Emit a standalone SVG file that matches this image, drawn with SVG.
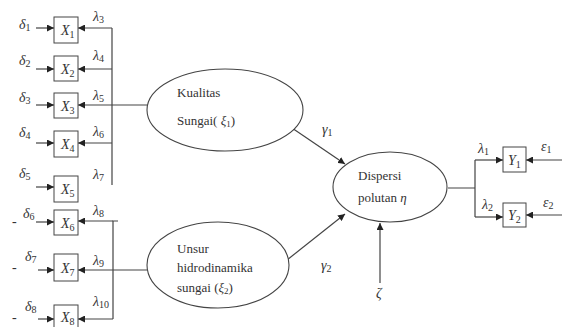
<svg xmlns="http://www.w3.org/2000/svg" width="562" height="327" viewBox="0 0 562 327">
<defs>
<marker id="ah" viewBox="0 0 10 10" refX="10" refY="5" markerWidth="7" markerHeight="7" markerUnits="userSpaceOnUse" orient="auto">
<path d="M0,0 L10,5 L0,10 z" fill="#222"/>
</marker>
<style>
.ln{stroke:#444;stroke-width:1.2;fill:none}
.ar{stroke:#444;stroke-width:1.2;fill:none;marker-end:url(#ah)}
.bx{fill:#fff;stroke:#444;stroke-width:1}
.el{fill:#fff;stroke:#444;stroke-width:1.1}
.m{font-family:"Liberation Serif","DejaVu Serif",serif;font-style:italic;font-size:14px;fill:#333}
.s{font-size:10px;font-style:normal}
.t{font-family:"Liberation Serif","DejaVu Serif",serif;font-size:13px;fill:#333}
</style>
</defs>
<rect width="562" height="327" fill="#fff"/>
<g id="connectors">
<path class="ar" d="M36,28 H54"/>
<path class="ar" d="M36,69 H54"/>
<path class="ar" d="M36,105 H54"/>
<path class="ar" d="M36,143 H54"/>
<path class="ar" d="M36,187 H54"/>
<path class="ar" d="M36,222 H54"/>
<path class="ar" d="M38,270 H54"/>
<path class="ar" d="M38,319 H54"/>
<path class="ln" d="M112,28 V185"/>
<path class="ar" d="M112,28 H78"/>
<path class="ar" d="M112,69 H78"/>
<path class="ar" d="M147,105 H78"/>
<path class="ar" d="M112,143 H78"/>
<path class="ln" d="M118,221 H113 V319"/>
<path class="ar" d="M113,221 H78"/>
<path class="ar" d="M147,270 H78"/>
<path class="ar" d="M113,319 H78"/>
<path class="ar" d="M292,128 L345,164"/>
<path class="ar" d="M287,260 L345,214"/>
<path class="ar" d="M380,283 V223"/>
<path class="ln" d="M448,188 H475 M475,160 V217"/>
<path class="ar" d="M475,160 H503"/>
<path class="ar" d="M475,217 H503"/>
<path class="ar" d="M562,160 H526"/>
<path class="ar" d="M562,215 H526"/>
</g>
<g id="X1"><rect class="bx" x="54" y="17" width="24" height="26"/><text class="m" x="61" y="35">X<tspan class="s" dy="3">1</tspan></text></g>
<g id="X2"><rect class="bx" x="54" y="56" width="24" height="25"/><text class="m" x="61" y="74">X<tspan class="s" dy="3">2</tspan></text></g>
<g id="X3"><rect class="bx" x="54" y="93" width="24" height="25"/><text class="m" x="61" y="111">X<tspan class="s" dy="3">3</tspan></text></g>
<g id="X4"><rect class="bx" x="54" y="131" width="24" height="26"/><text class="m" x="61" y="149">X<tspan class="s" dy="3">4</tspan></text></g>
<g id="X5"><rect class="bx" x="54" y="176" width="24" height="26"/><text class="m" x="61" y="194">X<tspan class="s" dy="3">5</tspan></text></g>
<g id="X6"><rect class="bx" x="54" y="210" width="24" height="25"/><text class="m" x="61" y="228">X<tspan class="s" dy="3">6</tspan></text></g>
<g id="X7"><rect class="bx" x="54" y="254" width="24" height="27"/><text class="m" x="61" y="273">X<tspan class="s" dy="3">7</tspan></text></g>
<g id="X8"><rect class="bx" x="54" y="305" width="24" height="26"/><text class="m" x="61" y="322">X<tspan class="s" dy="3">8</tspan></text></g>
<g id="Y1"><rect class="bx" x="503" y="147" width="23" height="25"/><text class="m" x="508" y="165">Y<tspan class="s" dy="3">1</tspan></text></g>
<g id="Y2"><rect class="bx" x="503" y="203" width="23" height="24"/><text class="m" x="508" y="220">Y<tspan class="s" dy="3">2</tspan></text></g>
<g id="labels">
<text class="m" x="19" y="29">δ<tspan class="s" dy="2">1</tspan></text>
<text class="m" x="19" y="65">δ<tspan class="s" dy="2">2</tspan></text>
<text class="m" x="19" y="102">δ<tspan class="s" dy="2">3</tspan></text>
<text class="m" x="19" y="137">δ<tspan class="s" dy="2">4</tspan></text>
<text class="m" x="19" y="178">δ<tspan class="s" dy="2">5</tspan></text>
<text class="m" x="23" y="218">δ<tspan class="s" dy="2">6</tspan></text>
<text class="m" x="25" y="261">δ<tspan class="s" dy="2">7</tspan></text>
<text class="m" x="25" y="311">δ<tspan class="s" dy="2">8</tspan></text>
<text class="m" x="12" y="226">-</text>
<text class="m" x="12" y="272">-</text>
<text class="m" x="12" y="322">-</text>
<text class="m" x="93" y="21">λ<tspan class="s" dy="2">3</tspan></text>
<text class="m" x="93" y="60">λ<tspan class="s" dy="2">4</tspan></text>
<text class="m" x="93" y="100">λ<tspan class="s" dy="2">5</tspan></text>
<text class="m" x="93" y="136">λ<tspan class="s" dy="2">6</tspan></text>
<text class="m" x="93" y="179">λ<tspan class="s" dy="2">7</tspan></text>
<text class="m" x="93" y="215">λ<tspan class="s" dy="2">8</tspan></text>
<text class="m" x="93" y="265">λ<tspan class="s" dy="2">9</tspan></text>
<text class="m" x="93" y="306">λ<tspan class="s" dy="2">10</tspan></text>
<text class="m" x="322" y="134">γ<tspan class="s" dy="2">1</tspan></text>
<text class="m" x="321" y="270">γ<tspan class="s" dy="2">2</tspan></text>
<text class="m" x="376" y="298">ζ</text>
<text class="m" x="478" y="153">λ<tspan class="s" dy="2">1</tspan></text>
<text class="m" x="482" y="209">λ<tspan class="s" dy="2">2</tspan></text>
<text class="m" x="541" y="151">ε<tspan class="s" dy="2">1</tspan></text>
<text class="m" x="543" y="207">ε<tspan class="s" dy="2">2</tspan></text>
</g>
<g id="kualitas"><ellipse class="el" cx="225" cy="110" rx="78" ry="41"/><text class="t" x="177" y="97">Kualitas</text><text class="t" x="177" y="125">Sungai( <tspan font-style="italic">ξ</tspan><tspan font-size="9" dy="2">1</tspan><tspan dy="-2">)</tspan></text></g>
<g id="unsur"><ellipse class="el" cx="218" cy="265" rx="71" ry="43"/><text class="t" x="177" y="253">Unsur</text><text class="t" x="177" y="272">hidrodinamika</text><text class="t" x="177" y="292">sungai (<tspan font-style="italic">ξ</tspan><tspan font-size="9" dy="2">2</tspan><tspan dy="-2">)</tspan></text></g>
<g id="dispersi"><ellipse class="el" cx="390" cy="187" rx="57" ry="35"/><text class="t" x="358" y="180">Dispersi</text><text class="t" x="358" y="202">polutan <tspan font-style="italic">η</tspan></text></g>
</svg>
